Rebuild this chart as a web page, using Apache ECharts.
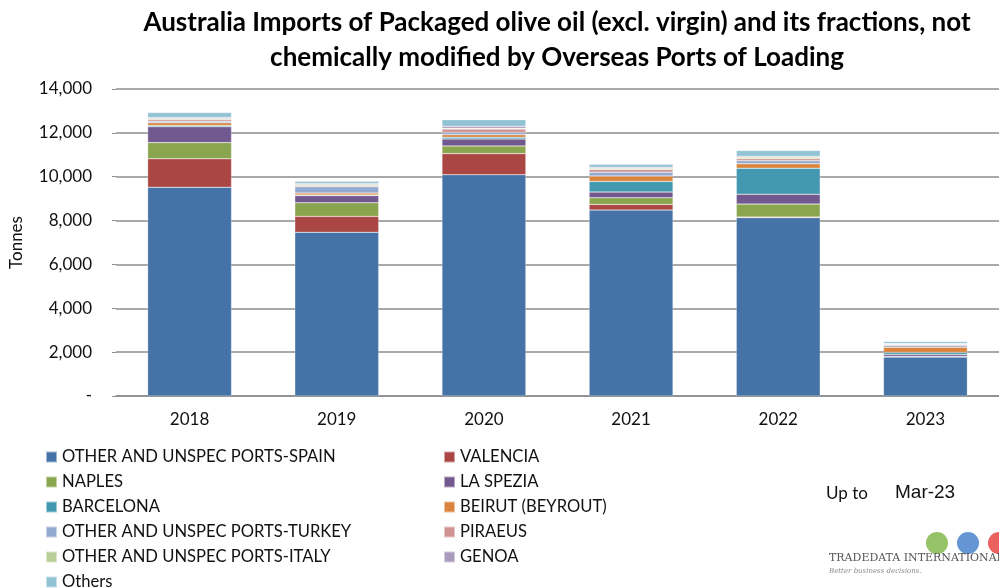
<!DOCTYPE html>
<html><head><meta charset="utf-8">
<script src="https://cdn.jsdelivr.net/npm/echarts@6/dist/echarts.min.js"></script>
<style>html,body{margin:0;padding:0;background:#fff}#c{width:999px;height:588px}</style>
</head><body><div id="c"></div>
<script>
const categories = ['2018','2019','2020','2021','2022','2023'];
const yTicks = [0,2000,4000,6000,8000,10000,12000,14000];
const seriesNames = ['OTHER AND UNSPEC PORTS-SPAIN','VALENCIA','NAPLES','LA SPEZIA','BARCELONA','BEIRUT (BEYROUT)','OTHER AND UNSPEC PORTS-TURKEY','PIRAEUS','OTHER AND UNSPEC PORTS-ITALY','GENOA','Others'];
const spain    = [9520, 7468, 10092, 8480, 8131, 1775];
const valencia = [1296,  724,   965,  258,   30,   20];
const naples   = [ 739,  619,   347,  303,  590,   10];
const laSpezia = [ 724,  331,   317,  258,  455,   90];
const barcelona= [  60,   20,    75,  486, 1183,   90];
const beirut   = [ 120,   90,   120,  242,  198,  243];
const turkey   = [  75,  287,   105,  182,  137,   76];
const piraeus  = [  75,   45,   150,  121,   91,   45];
const italy    = [  45,   60,    40,   60,   76,   20];
const genoa    = [  45,   45,    90,   45,   45,   30];
const others   = [ 225,  105,   300,  137,  258,   90];
const allData = [spain, valencia, naples, laSpezia, barcelona, beirut, turkey, piraeus, italy, genoa, others];
const colors = ['#4573A7','#AA4644','#89A54E','#71588F','#4198AF','#DB843D','#93A9CF','#D19392','#B9CD96','#A99BBD','#92C3D4'];

const font = 'Lato, "Open Sans", sans-serif';
const chart = echarts.init(document.getElementById('c'));
const series = seriesNames.map((n,i)=>({
  name:n, type:'bar', stack:'t', data:allData[i], barWidth:'57%',
  itemStyle:{color:colors[i], borderColor:'rgba(255,255,255,0.5)', borderWidth:0.5},
  emphasis:{disabled:true}
}));
const legendText = {fontFamily:font, fontSize:16.6, color:'#111', lineHeight:18};
chart.setOption({
  animation:false,
  title:{
    text:'Australia Imports of Packaged olive oil (excl. virgin) and its fractions, not\nchemically modified by Overseas Ports of Loading',
    left:552, top:0, textAlign:'center',
    textStyle:{fontFamily:font, fontWeight:'bold', fontSize:26, lineHeight:35, color:'#000'}
  },
  grid:{left:116, top:89, width:891, bottom:192, containLabel:false},
  xAxis:{type:'category', data:categories,
    axisLine:{lineStyle:{color:'#8c8c8c', width:1.5}}, axisTick:{show:false},
    axisLabel:{fontFamily:font, fontSize:17, color:'#111', margin:15}},
  yAxis:{type:'value', min:0, max:14000, interval:2000,
    name:'Tonnes', nameLocation:'middle', nameGap:91, nameRotate:90,
    nameTextStyle:{fontFamily:font, fontSize:17, color:'#111'},
    axisLine:{show:false}, axisTick:{show:true, length:4, lineStyle:{color:'#8c8c8c'}},
    splitLine:{lineStyle:{color:'#8c8c8c', width:1.5}},
    axisLabel:{fontFamily:font, fontSize:17, color:'#111', margin:24,
      formatter:v=> yTicks.includes(v) ? (v===0?'-':v.toLocaleString('en-US')) : ''}},
  legend:[
    {orient:'vertical', left:40, top:443, height:150, itemWidth:11, itemHeight:11, itemGap:7,
     icon:'rect', textStyle:legendText, selectedMode:false,
     data:[seriesNames[0],seriesNames[2],seriesNames[4],seriesNames[6],seriesNames[8],seriesNames[10]]},
    {orient:'vertical', left:438, top:443, height:150, itemWidth:11, itemHeight:11, itemGap:7,
     icon:'rect', textStyle:legendText, selectedMode:false,
     data:[seriesNames[1],seriesNames[3],seriesNames[5],seriesNames[7],seriesNames[9]]}
  ],
  graphic:[
    {type:'text', left:826, top:485, style:{text:'Up to', font:'17px '+font, fill:'#111'}},
    {type:'text', left:895, top:483, style:{text:'Mar-23', font:'19px "Liberation Sans", Arial, sans-serif', fill:'#111'}},
    {type:'circle', shape:{cx:937, cy:543, r:11}, style:{fill:'#7cb342', opacity:0.8}},
    {type:'circle', shape:{cx:968, cy:543, r:11}, style:{fill:'#3d7cc9', opacity:0.8}},
    {type:'circle', shape:{cx:999, cy:543, r:11}, style:{fill:'#e53935', opacity:0.8}},
    {type:'text', left:829, top:553, style:{text:'TRADEDATA INTERNATIONAL', font:'11px "DejaVu Serif", serif', fill:'#555'}},
    {type:'text', left:829, top:568, style:{text:'Better business decisions.', font:'italic 7px "DejaVu Serif", serif', fill:'#888'}}
  ],
  series
});
</script></body></html>
